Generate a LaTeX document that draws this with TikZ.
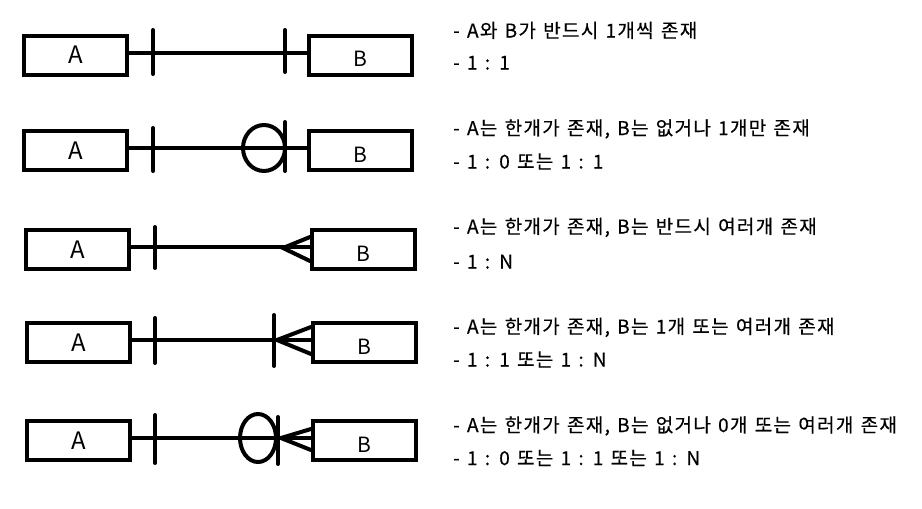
\documentclass[tikz,border=0pt]{standalone}
\usepackage{fontspec}
\newfontfamily\kor{Noto Sans CJK KR}
\newfontfamily\kortxt[LetterSpace=7, WordSpace=1.3, FakeBold=0.4]{Noto Sans CJK KR}

\tikzset{
  ent/.style={draw, line width=4pt, minimum width=103pt, minimum height=39pt, inner sep=0pt, font=\kor\fontsize{24}{24}\selectfont},
  entlbl/.style={font=\kor\fontsize{21}{21}\selectfont, yshift=-4pt},
  rel/.style={line width=4pt, line cap=round},
  txt/.style={anchor=base west, inner sep=0pt, font=\kortxt\fontsize{19}{19}\selectfont}
}

\begin{document}
\begin{tikzpicture}[x=1pt, y=-1pt]
\useasboundingbox (0,0) rectangle (922,509);

% 1 : 1
\node[ent] (a1) at (75.5,55) {A};
\node[ent, label={[entlbl]center:B}] (b1) at (360.5,55) {};
\draw[rel] ([yshift=2.5pt]a1.east) -- ([yshift=2.5pt]b1.west);
\draw[rel] (153,30) -- (153,74);
\draw[rel] (285,30) -- (285,72);

% 1 : 0 or 1 : 1
\node[ent] (a2) at (75.5,150.5) {A};
\node[ent, label={[entlbl]center:B}] (b2) at (360.5,150.5) {};
\draw[rel] ([yshift=2.5pt]a2.east) -- ([yshift=2.5pt]b2.west);
\draw[rel] (153,128) -- (153,171);
\draw[rel] (264,148) ellipse [x radius=21pt, y radius=23pt];
\draw[rel] (285,122) -- (285,171);

% 1 : N
\node[ent] (a3) at (77.5,249.5) {A};
\node[ent, label={[entlbl]center:B}] (b3) at (363,249.5) {};
\draw[rel] ([yshift=2.5pt]a3.east) -- ([yshift=2.5pt]b3.west);
\draw[rel] (155,227) -- (155,268);
\draw[rel] (310,237) -- (283,248) -- (310,261);

% 1 : 1 or 1 : N
\node[ent] (a4) at (78.5,342.5) {A};
\node[ent, label={[entlbl]center:B}] (b4) at (364,342.5) {};
\draw[rel] ([yshift=2.5pt]a4.east) -- ([yshift=2.5pt]b4.west);
\draw[rel] (155,318) -- (155,363);
\draw[rel] (274,315) -- (274,366);
\draw[rel] (311,327) -- (277,340) -- (311,354);

% 1 : 0, 1 : 1 or 1 : N
\node[ent] (a5) at (78.5,440.5) {A};
\node[ent, label={[entlbl]center:B}] (b5) at (364,440.5) {};
\draw[rel] ([yshift=2.5pt]a5.east) -- ([yshift=2.5pt]b5.west);
\draw[rel] (155,415) -- (155,463);
\draw[rel] (258,438) ellipse [x radius=18pt, y radius=24pt];
\draw[rel] (278,417) -- (278,464);
\draw[rel] (311,429) -- (281,438) -- (311,450);

% notes
\node[txt] (t1) at (453,37.5) {- A와 B가 반드시 1개씩 존재};
\node[txt] (t2) at (453,69.5) {- 1 : 1};
\node[txt] (t3) at (453,135) {- A는 한개가 존재, B는 없거나 1개만 존재};
\node[txt] (t4) at (453,168.5) {- 1 : 0 또는 1 : 1};
\node[txt] (t5) at (453,233.5) {- A는 한개가 존재, B는 반드시 여러개 존재};
\node[txt] (t6) at (453,268.5) {- 1 : N};
\node[txt] (t7) at (453,333.5) {- A는 한개가 존재, B는 1개 또는 여러개 존재};
\node[txt] (t8) at (453,366.5) {- 1 : 1 또는 1 : N};
\node[txt] (t9) at (453,432) {- A는 한개가 존재, B는 없거나 0개 또는 여러개 존재};
\node[txt] (t10) at (453,465) {- 1 : 0 또는 1 : 1 또는 1 : N};
\end{tikzpicture}
\end{document}
